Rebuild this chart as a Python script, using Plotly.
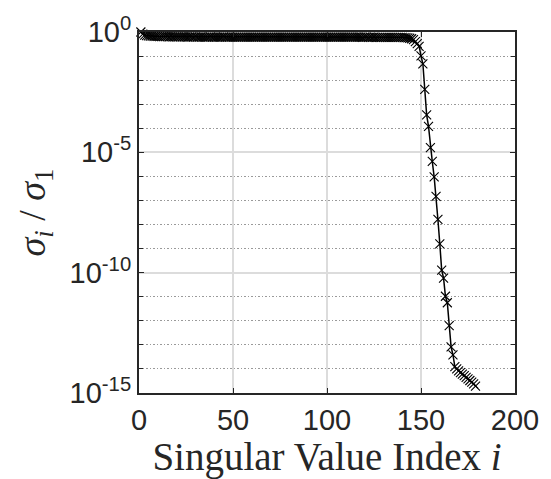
import plotly.graph_objects as go

# log10(sigma_i / sigma_1), index i = 1..180
log_ratio_plateau = [
    0.0, -0.09, -0.13, -0.15, -0.16, -0.17, -0.17, -0.18, -0.18, -0.18, -0.19, -0.19,
    -0.19, -0.19, -0.19, -0.20, -0.19, -0.20, -0.20, -0.20, -0.20, -0.20, -0.20, -0.20,
    -0.20, -0.21, -0.20, -0.20, -0.21, -0.20, -0.21, -0.21, -0.20, -0.21, -0.21, -0.21,
    -0.21, -0.20, -0.21, -0.21, -0.21, -0.21, -0.21, -0.21, -0.20, -0.21, -0.21, -0.21,
    -0.21, -0.21, -0.21, -0.21, -0.21, -0.21, -0.21, -0.21, -0.21, -0.21, -0.21, -0.21,
    -0.21, -0.21, -0.21, -0.21, -0.21, -0.21, -0.21, -0.21, -0.21, -0.21, -0.21, -0.21,
    -0.21, -0.21, -0.21, -0.21, -0.21, -0.21, -0.21, -0.21, -0.21, -0.21, -0.21, -0.21,
    -0.21, -0.21, -0.21, -0.21, -0.21, -0.21, -0.21, -0.21, -0.21, -0.21, -0.21, -0.21,
    -0.21, -0.21, -0.21, -0.21, -0.21, -0.21, -0.21, -0.21, -0.21, -0.21, -0.21, -0.21,
    -0.21, -0.21, -0.21, -0.21, -0.21, -0.21, -0.21, -0.21, -0.21, -0.21, -0.22, -0.21,
    -0.21, -0.22, -0.21, -0.22, -0.21, -0.22, -0.22, -0.22, -0.22, -0.22, -0.22, -0.22,
    -0.22, -0.22, -0.22, -0.22, -0.22, -0.22, -0.22, -0.22, -0.23, -0.23, -0.24, -0.26,
]
log_ratio_drop = [
    -0.28, -0.32, -0.40, -0.48, -0.60, -0.99, -1.32, -2.38, -3.44, -3.92,
    -4.80, -5.38, -6.02, -6.83, -7.79, -8.80, -9.89, -10.23, -10.98, -11.25,
    -12.20, -13.08, -13.42, -13.90,
]
log_ratio_tail = [
    -14.00, -14.08, -14.15, -14.22, -14.28, -14.35, -14.41, -14.48, -14.55, -14.62, -14.71,
]
log_ratio = log_ratio_plateau + log_ratio_drop + log_ratio_tail
index = list(range(1, len(log_ratio) + 1))
ratio = [10 ** v for v in log_ratio]

x_ticks = [0, 50, 100, 150, 200]
y_tick_vals = [1e-15, 1e-10, 1e-5, 1e0]
y_tick_text = ["10<sup>-15</sup>", "10<sup>-10</sup>", "10<sup>-5</sup>", "10<sup>0</sup>"]

fig = go.Figure()
fig.add_trace(go.Scatter(
    x=index, y=ratio, mode="lines+markers",
    line=dict(color="black", width=1.5),
    marker=dict(symbol="x-thin", size=9, line=dict(color="black", width=1.1)),
    cliponaxis=False, showlegend=False,
))

axis_common = dict(
    showline=True, linecolor="#262626", linewidth=2, mirror="ticks",
    ticks="inside", ticklen=5, tickcolor="#262626", tickwidth=1,
    gridcolor="#dcdcdc", gridwidth=1.5, zeroline=False,
    tickfont=dict(family="Liberation Sans, Arial, sans-serif", size=29, color="#262626"),
)

fig.update_xaxes(
    range=[0, 200], tickvals=x_ticks, showgrid=True,
    title=dict(text="Singular Value Index <i>i</i>",
               font=dict(family="Liberation Serif, Times New Roman, serif", size=39, color="#262626"),
               standoff=2),
    **axis_common,
)
fig.update_yaxes(
    type="log", range=[-15, 0], tickvals=y_tick_vals, ticktext=y_tick_text, showgrid=True,
    minor=dict(dtick=1, showgrid=True, griddash="1.5px,2px", gridcolor="#9a9a9a", gridwidth=1.2,
               ticks="inside", ticklen=4, tickcolor="#262626"),
    title=dict(text="<i>σ<sub>i</sub></i> / <i>σ</i><sub>1</sub>",
               font=dict(family="Liberation Serif, Times New Roman, serif", size=38, color="#262626"),
               standoff=12),
    **axis_common,
)

fig.update_layout(
    width=551, height=479,
    margin=dict(l=139, r=28, t=26, b=86),
    paper_bgcolor="white", plot_bgcolor="white",
)

fig.write_html("out.html")
